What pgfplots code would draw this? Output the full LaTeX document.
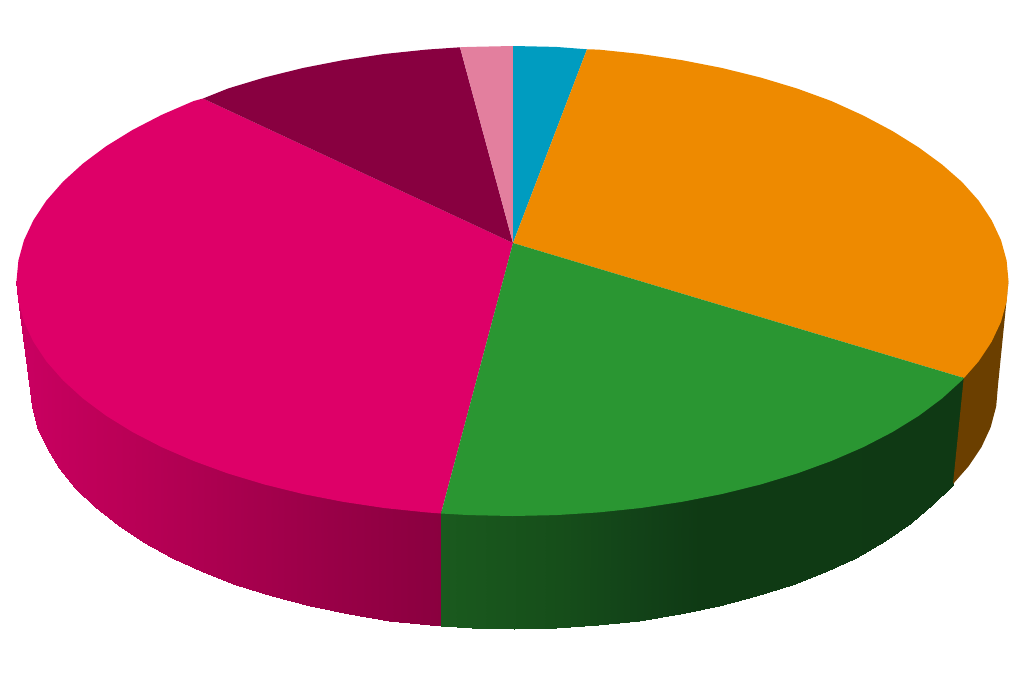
\documentclass[border=0pt]{standalone}
\usepackage{pgfplots}
\pgfplotsset{compat=1.18}
\definecolor{sliceblue}{RGB}{0,156,192}
\definecolor{sliceorange}{RGB}{238,138,0}
\definecolor{slicegreen}{RGB}{42,150,50}
\definecolor{slicepink}{RGB}{222,0,104}
\definecolor{slicedark}{RGB}{136,0,64}
\definecolor{slicelight}{RGB}{227,127,158}
\definecolor{sideorange}{RGB}{107,63,0}
\pgfplotsset{
  colormap={pinkside}{rgb255(0pt)=(203,0,97) rgb255(30pt)=(200,0,96) rgb255(100pt)=(190,0,88) rgb255(170pt)=(179,0,83) rgb255(250pt)=(166,0,77) rgb255(330pt)=(153,0,71) rgb255(441pt)=(138,0,63) rgb255(1024pt)=(138,0,63)},
  colormap={greenside}{rgb255(0pt)=(26,90,30) rgb255(441pt)=(26,90,30) rgb255(560pt)=(22,78,26) rgb255(640pt)=(18,66,24) rgb255(700pt)=(15,58,20) rgb255(1024pt)=(15,57,20)},
}
\begin{document}
\begin{tikzpicture}
\useasboundingbox (0,0) rectangle (1024pt,691pt);
\begin{axis}[
    at={(0,0)}, anchor=south west,
    scale only axis,
    width=1024pt, height=691pt,
    xmin=0, xmax=1024,
    ymin=0, ymax=691,
    y dir=reverse,
    hide axis,
    point meta min=0, point meta max=1024,
]

% side walls, upper row (tucked under the top face) then lower rim row
\addplot[surf, shader=interp, colormap name=pinkside, mesh/cols=18, point meta=x] table {
x y
16.5 281
18.4 298.5
24 318.8
33.4 338.8
46.4 358.4
63 377.3
83 395.5
106.2 412.8
132.6 429.1
161.8 444.2
193.7 458
228 470.5
264.5 481.5
302.9 491
342.9 498.8
384.1 505
426.4 509.4
441 510.5
30 385
31.8 406.3
37.4 427.4
46.5 448.1
59.2 468.4
75.4 488.1
94.9 507
117.5 525
143.3 541.8
171.8 557.5
202.9 571.9
236.4 584.9
272 596.3
309.5 606.1
348.5 614.3
388.7 620.7
430 625.3
441 626
};

\addplot[surf, shader=interp, colormap name=greenside, mesh/cols=17, point meta=x] table {
x y
441 510.5
469.2 512.1
512.5 513
555.8 512.1
598.6 509.4
640.9 505
682.1 498.8
722.1 491
760.5 481.5
797 470.5
831.3 458
863.2 444.2
892.4 429.1
918.8 412.8
942 395.5
962 377.3
964 375
441 626
471.8 628.1
514 629
556.2 628.1
598 625.3
639.3 620.7
679.5 614.3
718.5 606.1
756 596.3
791.6 584.9
825.1 571.9
856.2 557.5
884.7 541
910.5 523
933.1 504
952 485.5
953 484
};

\addplot[fill=sideorange, draw=none] coordinates {
(964,375) (978.6,358.4) (991.6,338.8) (1001,318.8) (1006.6,298.5) (1008.5,281)
(998,385) (996.2,406.3) (990.6,427.4) (981.5,447) (968.8,466) (953,484)
} --cycle;

% top face
\addplot[fill=slicepink, draw=none] coordinates {
(513,243) (441,513.5) (426.4,512.4) (384.1,508) (342.9,501.8) (302.9,494) (264.5,484.5)
(228,473.5) (193.7,461) (161.8,447.2) (132.6,432.1) (106.2,415.8) (83,398.5) (63,380.3)
(46.4,361.4) (33.4,341.8) (24,321.8) (18.4,301.5) (16.5,281) (18.4,260.5) (24,240.2)
(33.4,220.2) (46.4,200.6) (63,181.7) (83,163.5) (106.2,146.2) (132.6,129.9) (161.8,114.8)
(193.7,101) (203,98.5)
} --cycle;

\addplot[fill=slicedark, draw=none] coordinates {
(513,243) (203,98.5) (228,88.5) (264.5,77.5) (302.9,68) (342.9,60.2) (384.1,54) (426.4,49.6) (460,47.3)
} --cycle;

\addplot[fill=slicelight, draw=none] coordinates {
(513,243) (460,47.3) (469.2,46.9) (513,46)
} --cycle;

\addplot[fill=sliceblue, draw=none] coordinates {
(513,243) (513,46) (555.8,46.9) (587,49.3)
} --cycle;

\addplot[fill=sliceorange, draw=none] coordinates {
(513,243) (587,49.3) (598.6,49.6) (640.9,54) (682.1,60.2) (722.1,68) (760.5,77.5) (797,88.5)
(831.3,101) (863.2,115.5) (892.4,131) (918.8,147.5) (942,164.5) (962,182) (978.6,200.6)
(991.6,220.2) (1001,240.2) (1006.6,260.5) (1008.5,281) (1006.6,301.5) (1001,321.8)
(991.6,341.8) (978.6,361.4) (964,378)
} --cycle;

\addplot[fill=slicegreen, draw=none] coordinates {
(513,243) (964,378) (962,380.3) (942,398.5) (918.8,415.8) (892.4,432.1) (863.2,447.2)
(831.3,461) (797,473.5) (760.5,484.5) (722.1,494) (682.1,501.8) (640.9,508) (598.6,512.4)
(555.8,515.1) (512.5,516) (469.2,515.1) (441,513.5)
} --cycle;

\end{axis}
\end{tikzpicture}
\end{document}
